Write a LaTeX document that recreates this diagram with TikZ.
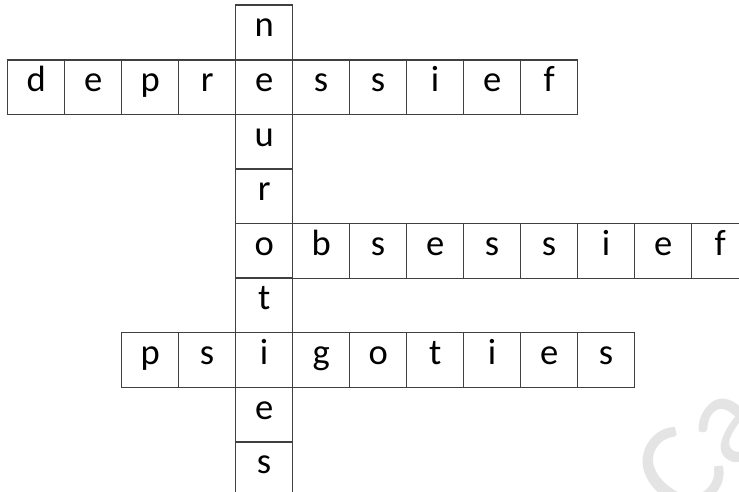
\documentclass[tikz,border=0pt]{standalone}
\usepackage{fontspec}
\setmainfont{Carlito}
\usepackage{tikz}
\usepackage{xcolor}

\definecolor{gridline}{HTML}{404040}
\definecolor{mark}{HTML}{E4E4E4}

\tikzset{
  cell/.style={draw=gridline, line width=0.9pt, minimum width=1.425cm,
    minimum height=1.365cm, inner sep=0pt, anchor=north west,
    font=\fontsize{26}{26}\selectfont, text depth=0pt, text height=1.3ex}
}

\begin{document}
\begin{tikzpicture}[x=0.025cm, y=-0.025cm]
  \clip (0,0) rectangle (739,492);
  % faint watermark in the lower right corner
  \node[text=mark, rotate=50, inner sep=0pt, font=\fontsize{92}{92}\selectfont] (wm) at (700,448) {Ca};
  % horizontal words
  \foreach \c [count=\i] in {d,e,p,r,e,s,s,i,e,f}
    \node[cell] (d\i) at ({7+57*(\i-1)},59.3) {\c};
  \foreach \c [count=\i] in {o,b,s,e,s,s,i,e,f}
    \node[cell] (o\i) at ({235+57*(\i-1)},223) {\c};
  \foreach \c [count=\i] in {p,s,i,g,o,t,i,e,s}
    \node[cell] (p\i) at ({121+57*(\i-1)},332) {\c};
  % vertical word, crossing letters already set above
  \foreach \c/\r in {n/1,u/3,r/4,t/6,e/8,s/9}
    \node[cell] (n\r) at (235,{4.5+54.6*(\r-1)}) {\c};
\end{tikzpicture}
\end{document}
